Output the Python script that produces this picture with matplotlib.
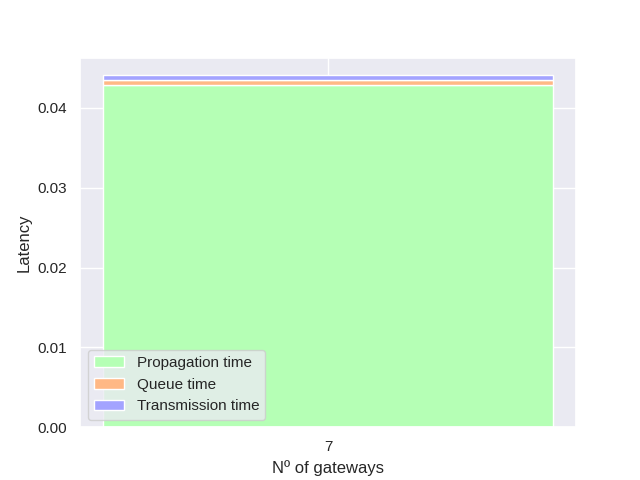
import matplotlib
matplotlib.use("Agg")
import matplotlib.pyplot as plt
import seaborn as sns
import numpy as np

sns.set_theme(style="darkgrid")
plt.rcParams["font.family"] = ["Liberation Sans", "DejaVu Sans"]

categories = ["7"]
propagation = [0.0429]
queue = [0.0006]
transmission = [0.0006]

fig, ax = plt.subplots(figsize=(6.4, 4.8), dpi=100)
x = np.arange(len(categories))
ax.bar(x, propagation, color="#b5ffb5", edgecolor="white", label="Propagation time")
ax.bar(x, queue, bottom=propagation, color="#ffb885", edgecolor="white", label="Queue time")
bottom2 = np.array(propagation) + np.array(queue)
ax.bar(x, transmission, bottom=bottom2, color="#a3a3ff", edgecolor="white", label="Transmission time")
ax.set_xticks(x)
ax.set_xticklabels(categories)
ax.set_xlabel("Nº of gateways")
ax.set_ylabel("Latency")
ax.legend(loc="lower left")
fig.savefig("out.png")
